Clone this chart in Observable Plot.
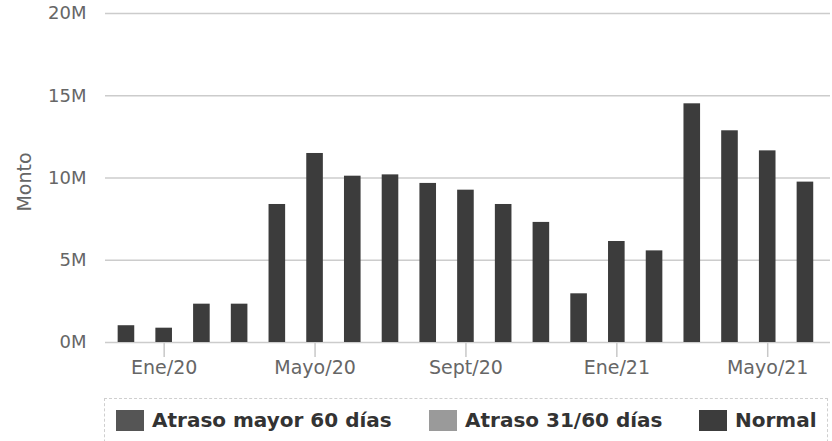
<!DOCTYPE html>
<html>
<head>
<meta charset="utf-8">
<script src="https://cdn.jsdelivr.net/npm/d3@7"></script>
<script src="https://cdn.jsdelivr.net/npm/@observablehq/plot@0.6"></script>
<style>
  html, body { margin: 0; padding: 0; background: #fff; }
  body { width: 832px; height: 441px; position: relative; overflow: hidden; font-family: "DejaVu Sans", sans-serif; }
  #chart { position: absolute; left: 0; top: 0; }
  g[aria-label="x-axis"] .tick line, g[aria-label="x-axis tick"] path { stroke: #c8c8c8; stroke-width: 1.5px; }
  g[aria-label="x-axis"] text, g[aria-label="x-axis tick label"] text { font-size: 19px; }
  #legend { position: absolute; left: 104px; top: 398px; width: 724px; height: 60px; border: 1px dashed #cfcfcf; box-sizing: border-box; }
  .item { position: absolute; top: 10px; height: 22px; display: flex; align-items: center; }
  .sw { width: 28px; height: 21px; margin-right: 8px; }
  .lbl { font-family: "DejaVu Sans", sans-serif; font-weight: bold; font-size: 20px; color: #333; white-space: nowrap; }
</style>
</head>
<body>
<div id="chart"></div>
<div id="legend"></div>
<script>
const months = ["Dic/19","Ene/20","Feb/20","Mar/20","Abr/20","Mayo/20","Jun/20","Jul/20","Ago/20","Sept/20","Oct/20","Nov/20","Dic/20","Ene/21","Feb/21","Mar/21","Abr/21","Mayo/21","Jun/21"];
const xTickLabels = ["Ene/20","Mayo/20","Sept/20","Ene/21","Mayo/21"];
const yTicks = [0, 5, 10, 15, 20];
const seriesNames = ["Atraso mayor 60 días", "Atraso 31/60 días", "Normal"];
const seriesColors = ["#555555", "#9a9a9a", "#3c3c3c"];
// values in millions
const atrasoMayor60 = [0,0,0,0,0,0,0,0,0,0,0,0,0,0,0,0,0,0,0];
const atraso31a60   = [0,0,0,0,0,0,0,0,0,0,0,0,0,0,0,0,0,0,0];
const normal = [1.02, 0.87, 2.33, 2.33, 8.39, 11.49, 10.11, 10.19, 9.67, 9.26, 8.39, 7.30, 2.96, 6.14, 5.57, 14.51, 12.87, 11.65, 9.75];

const seriesValues = [atrasoMayor60, atraso31a60, normal];
const rows = [];
seriesNames.forEach((s, i) => months.forEach((m, j) => rows.push({month: m, series: s, value: seriesValues[i][j]})));

const chart = Plot.plot({
  width: 832,
  height: 396,
  marginLeft: 105,
  marginRight: 2,
  marginTop: 13,
  marginBottom: 54,
  style: {fontFamily: "DejaVu Sans", fontSize: "18px", color: "#666", background: "white"},
  x: {domain: months, round: false, paddingInner: 0.56, paddingOuter: 0.39, align: 0.43, ticks: xTickLabels, tickSize: 15, tickPadding: 3, label: null},
  y: {domain: [0, 20], ticks: yTicks, tickSize: 0, tickPadding: 19, tickFormat: d => d + "M", label: null},
  color: {domain: seriesNames, range: seriesColors},
  marks: [
    Plot.ruleY(yTicks, {stroke: "#cccccc", strokeWidth: 1.5}),
    Plot.barY(rows, {x: "month", y: "value", fill: "series", order: seriesNames.slice().reverse()}),
    Plot.text(["Monto"], {frameAnchor: "left", textAnchor: "middle", rotate: -90, dx: -81, dy: 4, fill: "#666", fontSize: 19})
  ]
});
document.getElementById("chart").appendChild(chart);

const legend = document.getElementById("legend");
const itemLeft = [11, 324, 594];
seriesNames.forEach((s, i) => {
  const it = document.createElement("div");
  it.className = "item";
  it.style.left = itemLeft[i] + "px";
  const sw = document.createElement("div");
  sw.className = "sw";
  sw.style.background = seriesColors[i];
  const lb = document.createElement("span");
  lb.className = "lbl";
  lb.textContent = s;
  it.appendChild(sw);
  it.appendChild(lb);
  legend.appendChild(it);
});
</script>
</body>
</html>
